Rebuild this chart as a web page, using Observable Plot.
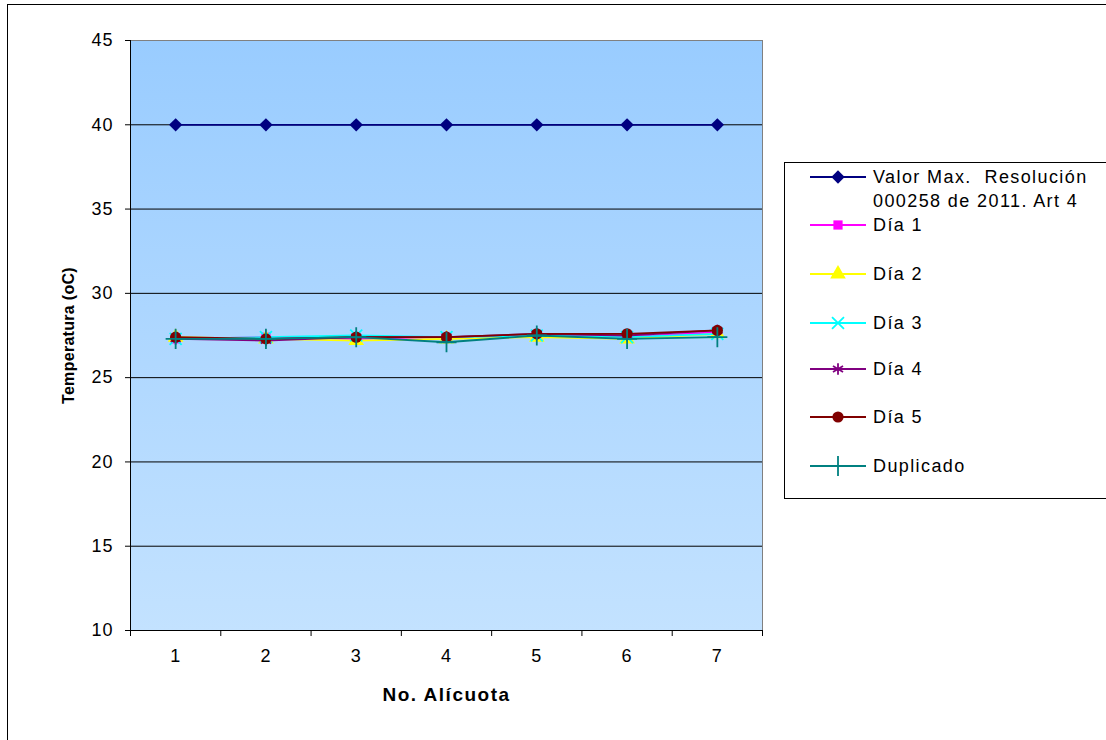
<!DOCTYPE html>
<html>
<head>
<meta charset="utf-8">
<script src="https://cdn.jsdelivr.net/npm/d3@7"></script>
<script src="https://cdn.jsdelivr.net/npm/@observablehq/plot@0.6"></script>
<style>
  html, body { margin: 0; padding: 0; background: #fff; }
  #wrap { position: relative; width: 1106px; height: 740px; overflow: hidden; font-family: "Liberation Sans", Arial, sans-serif; }
  #border { position: absolute; left: 7px; top: 4px; width: 1200px; height: 800px; border: 1px solid #000; box-sizing: border-box; }
  #chart { position: absolute; left: 0; top: 0; }
  #chart svg { font-family: "Liberation Sans", Arial, sans-serif; }
  #chart svg .tick-lbl, #chart svg .tick-lbl text { font-size: 18px !important; letter-spacing: 1px; }
  #chart svg g[aria-label="y-axis label"] text { font-weight: bold; font-size: 16px !important; letter-spacing: 0.3px; }
  #chart svg g[aria-label="x-axis label"] text { font-weight: bold; font-size: 19px !important; letter-spacing: 1.5px; }
  #legend { position: absolute; left: 784px; top: 162px; width: 400px; height: 337px; border: 1px solid #000; box-sizing: border-box; background: #fff; }
  .item { position: absolute; left: 0; height: 24px; }
  .item svg { position: absolute; left: 25px; top: 0; }
  .item span { position: absolute; left: 88px; top: 0; font-size: 18px; letter-spacing: 1.4px; line-height: 24px; white-space: nowrap; color: #000; }
</style>
</head>
<body>
<div id="wrap">
  <div id="border"></div>
  <div id="chart"></div>
  <div id="legend"></div>
</div>
<script>
const alicuotas = [1, 2, 3, 4, 5, 6, 7];
const seriesNames = ["Valor Max.  Resolución 000258 de 2011. Art 4", "Día 1", "Día 2", "Día 3", "Día 4", "Día 5", "Duplicado"];
const valorMax  = [40, 40, 40, 40, 40, 40, 40];
const dia1      = [27.3, 27.4, 27.3, 27.4, 27.5, 27.4, 27.7];
const dia2      = [27.4, 27.3, 27.2, 27.3, 27.4, 27.3, 27.6];
const dia3      = [27.3, 27.4, 27.5, 27.4, 27.5, 27.4, 27.6];
const dia4      = [27.3, 27.2, 27.4, 27.4, 27.6, 27.5, 27.8];
const dia5      = [27.4, 27.3, 27.4, 27.4, 27.6, 27.6, 27.8];
const duplicado = [27.3, 27.3, 27.4, 27.1, 27.5, 27.3, 27.4];
const yTicks = [10, 15, 20, 25, 30, 35, 40, 45];

const colors  = ["#000080", "#FF00FF", "#FFFF00", "#00FFFF", "#800080", "#800000", "#008080"];
const symbols = ["diamond2", "square", "triangle", "times", "asterisk", "circle", "plus"];
const filled  = [true, true, true, false, false, true, false];
const sizes   = [6, 5.2, 5.8, 5.5, 5.5, 5.6, 6.5];
const values  = [valorMax, dia1, dia2, dia3, dia4, dia5, duplicado];

const data = [];
values.forEach((vals, s) => vals.forEach((v, i) => data.push({serie: s, x: alicuotas[i], y: v})));

const marks = [
  Plot.frame({fill: "url(#bgGrad)", stroke: "#808080"}),
  Plot.gridY(yTicks.filter(t => t > 10 && t < 45), {stroke: "#000", strokeOpacity: 1, strokeWidth: 1}),
  Plot.axisY(yTicks, {tickSize: 5, tickPadding: 12, fontSize: 18, className: "tick-lbl", label: null}),
  Plot.axisY({label: "Temperatura (oC)", labelAnchor: "center", labelArrow: "none", labelOffset: 68, tickSize: 0, ticks: []}),
  Plot.axisX(alicuotas, {tickSize: 0, tickPadding: 19, fontSize: 18, className: "tick-lbl", label: null}),
  Plot.axisX({label: "No. Alícuota", labelAnchor: "center", labelArrow: "none", labelOffset: 70, tickSize: 0, ticks: []}),
  Plot.axisX(alicuotas.map(a => a - 0.5).concat([7.5]), {tickSize: 6, text: null, label: null}),
  Plot.ruleX([0.5], {stroke: "#000"}),
  Plot.ruleY([10], {stroke: "#000"})
];
values.forEach((vals, s) => {
  const d = data.filter(p => p.serie === s);
  marks.push(Plot.line(d, {x: "x", y: "y", stroke: colors[s], strokeWidth: 1.8}));
  marks.push(Plot.dot(d, {x: "x", y: "y", symbol: () => symbols[s], r: sizes[s],
    fill: filled[s] ? colors[s] : "none", stroke: colors[s], strokeWidth: filled[s] ? 0 : 1.8}));
});

const plot = Plot.plot({
  width: 1106, height: 740,
  marginLeft: 130, marginRight: 344, marginTop: 40, marginBottom: 110,
  style: {background: "transparent", fontSize: "16px", color: "#000"},
  x: {type: "linear", domain: [0.5, 7.5]},
  y: {domain: [10, 45]},
  marks
});
const ns = "http://www.w3.org/2000/svg";
const defs = document.createElementNS(ns, "defs");
defs.innerHTML = '<linearGradient id="bgGrad" x1="0" y1="0" x2="0" y2="1"><stop offset="0" stop-color="#99CCFF"/><stop offset="1" stop-color="#C3E2FF"/></linearGradient>';
plot.insertBefore(defs, plot.firstChild);
document.getElementById("chart").appendChild(plot);

// legend
const legend = document.getElementById("legend");
const rowTops = [2, 50, 99, 148, 194, 242, 291];
const symMap = {diamond2: d3.symbolDiamond2, square: d3.symbolSquare, triangle: d3.symbolTriangle, times: d3.symbolTimes, asterisk: d3.symbolAsterisk, circle: d3.symbolCircle, plus: d3.symbolPlus};
seriesNames.forEach((name, s) => {
  const item = document.createElement("div");
  item.className = "item";
  item.style.top = rowTops[s] + "px";
  const r = sizes[s];
  const path = d3.symbol(symMap[symbols[s]], Math.PI * r * r)();
  item.innerHTML = `<svg width="56" height="24"><line x1="0" x2="56" y1="12" y2="12" stroke="${colors[s]}" stroke-width="1.8"/>` +
    `<path transform="translate(28,12)" d="${path}" fill="${filled[s] ? colors[s] : "none"}" stroke="${colors[s]}" stroke-width="${filled[s] ? 0 : 1.8}"/></svg>` +
    (s === 0 ? `<span>Valor Max.&nbsp; Resolución<br>000258 de 2011. Art 4</span>` : `<span>${name}</span>`);
  legend.appendChild(item);
});
</script>
</body>
</html>
